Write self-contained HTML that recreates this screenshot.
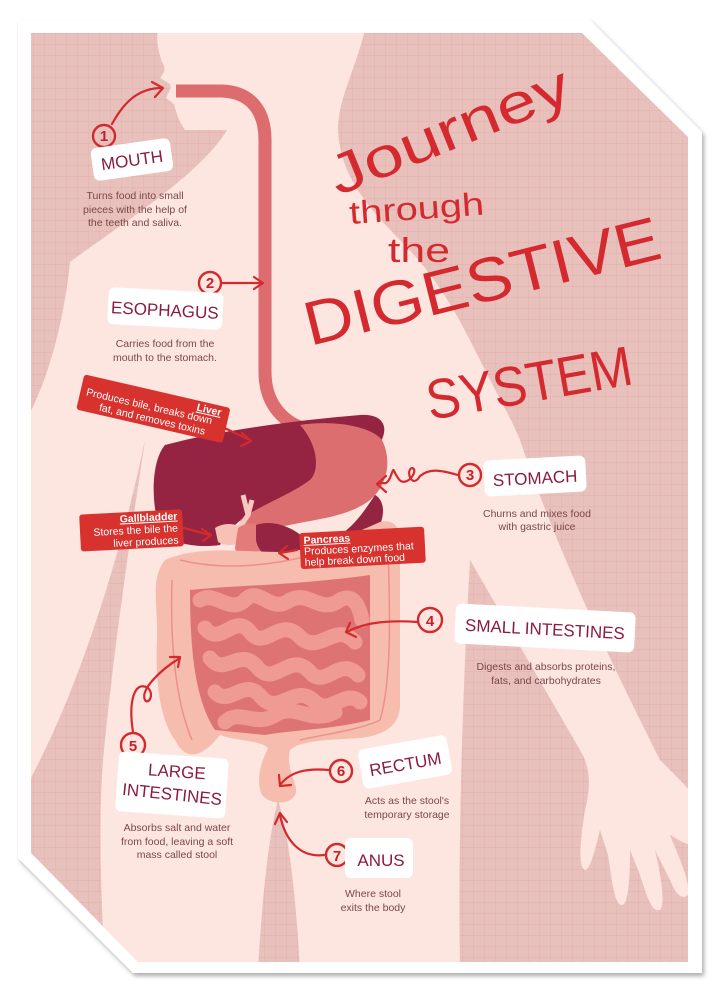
<!DOCTYPE html>
<html><head><meta charset="utf-8"><style>
html,body{margin:0;padding:0;background:#fff;}
body{width:716px;height:993px;position:relative;overflow:hidden;font-family:"Liberation Sans",sans-serif;}
svg{position:absolute;left:0;top:0;}
</style></head><body>
<svg width="716" height="993" viewBox="0 0 716 993" xmlns="http://www.w3.org/2000/svg">
<defs>
<pattern id="grid" width="11" height="11" patternUnits="userSpaceOnUse">
<path d="M11 0H0V11" fill="none" stroke="#e2aaa6" stroke-width="0.7"/>
</pattern>
<clipPath id="inner"><path d="M31 33H582L688 137V962H138L31 853Z"/></clipPath>
<filter id="sh" x="-5%" y="-5%" width="110%" height="110%"><feDropShadow dx="2" dy="3" stdDeviation="2" flood-color="#777" flood-opacity="0.6"/></filter>
</defs>
<path d="M18 20H590L702 132V973H133L18 858Z" fill="#fff" filter="url(#sh)"/>
<g clip-path="url(#inner)">
<rect x="0" y="0" width="716" height="993" fill="#e8c1bc"/>
<rect x="0" y="0" width="716" height="993" fill="url(#grid)"/>
<path fill="#fde5e0" d="M158 30 L365 30 C355 70 338 100 338 130 C340 170 360 200 400 240 C440 280 460 320 480 360 C500 400 512 420 520 440 C560 560 620 680 660 760 C690 790 700 800 700 810 L700 840 C690 850 680 840 670 835 C680 860 690 880 688 895 C682 900 676 895 670 880 L655 850 C662 880 665 905 660 910 C652 912 648 900 640 875 L630 850 C630 880 628 905 622 905 C614 905 612 880 608 855 L600 830 C595 850 590 870 585 870 C578 868 580 840 585 810 C590 790 592 770 580 750 L470 560 C462 700 458 850 460 970 L300 970 C296 900 290 840 278 800 C268 840 262 900 258 970 L105 970 C100 880 98 800 105 740 C115 640 130 540 145 440 C120 560 80 680 40 760 L20 800 L20 430 C40 400 62 340 70 262 C120 225 200 175 227 130 L185 130 C178 120 176 112 174 104 L166 98 C168 92 172 90 170 84 L160 78 C165 72 166 68 162 62 C158 50 156 40 158 30Z"/>
<path d="M176 91 H222 C250 92 265 110 265 140 V372 C265 405 285 425 310 430" fill="none" stroke="#dd6c6f" stroke-width="13"/>
<path fill="#952342" d="M165 445 C220 430 300 420 360 415 C385 413 392 430 375 450 C350 480 320 490 280 500 C250 510 230 525 220 545 C200 548 170 545 160 530 C150 500 152 460 165 445Z"/>
<path fill="#dd6e6f" d="M300 425 C330 420 370 425 382 440 C392 460 388 485 370 500 C345 520 300 520 270 530 C255 535 245 530 240 520 C260 505 290 495 310 480 C320 470 318 445 300 425Z"/>
<path fill="#952342" d="M375 495 C385 500 388 520 370 540 C355 548 345 540 340 535 C355 525 365 510 375 495Z"/>
<path d="M243 495 L248 515 L238 530 M252 500 L248 515" stroke="#f7c8bd" stroke-width="5" fill="none"/>
<path fill="#f7c1b5" d="M215 528 C228 520 245 525 245 535 C242 545 228 548 218 542Z"/>
<path fill="#e27b7a" d="M238 528 C250 520 262 522 262 535 L260 560 C250 566 238 560 235 548Z"/>
<path fill="#952342" d="M256 525 C275 518 300 530 310 545 C312 562 300 570 285 566 C268 560 258 552 256 540Z"/>
<path fill="#f6bcae" d="M165 560 C200 545 240 552 280 552 C320 550 350 535 380 522 C395 518 402 530 400 545 L400 705 C400 725 385 735 360 738 C330 740 300 740 290 750 C285 770 300 785 295 795 C290 805 270 805 262 795 C255 780 262 760 268 748 C260 740 240 742 220 735 C200 760 185 760 175 740 C160 720 155 680 157 640 C158 600 150 580 165 560Z"/>
<path fill="#de7373" d="M190 590 C240 585 300 585 370 575 L370 720 C330 730 290 730 265 735 L215 730 C195 700 190 650 190 590Z"/>
<g fill="none" stroke="#ef9b93" stroke-width="15" stroke-linecap="round">
<path d="M200 600 C215 590 230 615 245 600 C260 585 270 615 290 600 C310 590 320 615 340 600 C355 592 360 610 362 620"/>
<path d="M205 628 C220 648 235 612 250 632 C265 652 280 615 300 637 C320 656 335 620 355 642"/>
<path d="M210 658 C225 678 240 645 258 668 C275 688 290 650 310 672 C325 690 340 655 358 675"/>
<path d="M215 692 C230 708 245 675 262 698 C280 716 295 682 315 702 C330 716 345 688 360 702"/>
<path d="M225 722 C240 708 255 728 275 715 C295 702 310 725 335 712"/>
</g>
<path d="M172 580 C170 640 175 700 192 740" fill="none" stroke="#ec9188" stroke-width="1.5"/>
<path d="M388 545 C390 610 392 680 380 720 C360 730 320 735 300 740" fill="none" stroke="#ec9188" stroke-width="1.5"/>
<path d="M180 560 C240 575 320 560 378 530" fill="none" stroke="#ec9188" stroke-width="1.5"/>
</g>

<g fill="none" stroke="#d32a2e" stroke-width="2.2" stroke-linecap="round" stroke-linejoin="round">
<path d="M112 124 C125 100 140 88 162 88"/><path d="M152 82 L163 88 L155 97"/>
<path d="M222 283 H262"/><path d="M254 277 L263 283 L254 289"/>
<path d="M458 475 C440 470 430 468 420 476 C412 490 405 470 412 468 C420 470 405 490 398 478 C392 470 395 465 390 478 C385 488 382 480 378 484"/><path d="M386 476 L377 484 L386 492"/>
<path d="M417 622 C390 620 365 622 347 632"/><path d="M350 623 L346 632 L356 637"/>
<path d="M133 732 C128 700 135 680 148 688 C155 695 148 705 145 700 C140 690 160 670 180 658"/><path d="M170 657 L180 657 L178 667"/>
<path d="M329 770 C305 768 290 772 280 785"/><path d="M279 775 L280 786 L291 785"/>
<path d="M324 855 C300 858 285 840 280 815"/><path d="M275 824 L280 813 L287 822"/>
<path d="M218 425 L250 440"/><path d="M242 433 L251 441 L241 446"/>
<path d="M180 527 L210 535"/><path d="M202 529 L211 535 L203 541"/>
<path d="M297 550 L280 553"/><path d="M287 546 L279 553 L288 559"/>
</g>
<g fill="none" stroke="#d32a2e" stroke-width="2.4">
<circle cx="104" cy="136" r="11"/><circle cx="210" cy="283" r="11"/><circle cx="470" cy="475" r="11"/>
<circle cx="430" cy="620" r="12"/><circle cx="133" cy="745" r="12"/><circle cx="341" cy="771" r="11"/><circle cx="337" cy="855" r="11"/>
</g>
<g fill="#c81f2a" font-size="15" font-weight="bold" text-anchor="middle" font-family="Liberation Sans,sans-serif">
<text x="104" y="141">1</text><text x="210" y="288">2</text><text x="470" y="480">3</text><text x="430" y="626">4</text><text x="133" y="751">5</text><text x="341" y="776">6</text><text x="337" y="861">7</text>
</g>

<g fill="#fff">
<rect x="92" y="143" width="80" height="33" rx="6" transform="rotate(-8 132 160)"/>
<rect x="108" y="290" width="115" height="37" rx="6" transform="rotate(3 165 308)"/>
<rect x="484" y="458" width="102" height="36" rx="6" transform="rotate(-3 535 476)"/>
<rect x="455" y="608" width="180" height="40" rx="6" transform="rotate(3 545 628)"/>
<rect x="117" y="755" width="110" height="60" rx="6" transform="rotate(4 172 785)"/>
<rect x="360" y="742" width="90" height="40" rx="6" transform="rotate(-10 405 762)"/>
<rect x="345" y="838" width="68" height="40" rx="6"/>
</g>
<g fill="#8b1c3f" font-family="Liberation Sans Narrow,Liberation Sans,sans-serif" font-size="17">
<text x="132" y="166" text-anchor="middle" transform="rotate(-8 132 160)">MOUTH</text>
<text x="165" y="316" text-anchor="middle" transform="rotate(3 165 308)">ESOPHAGUS</text>
<text x="535" y="484" text-anchor="middle" transform="rotate(-3 535 476)">STOMACH</text>
<text x="545" y="635" text-anchor="middle" transform="rotate(3 545 628)">SMALL INTESTINES</text>
<text x="176" y="777" text-anchor="middle" transform="rotate(4 172 785)">LARGE</text>
<text x="172" y="800" text-anchor="middle" transform="rotate(6 172 795)">INTESTINES</text>
<text x="405" y="770" text-anchor="middle" transform="rotate(-10 405 762)">RECTUM</text>
<text x="381" y="866" text-anchor="middle">ANUS</text>
</g>
<g fill="#7b4848" font-size="10.5" text-anchor="middle" font-family="Liberation Sans,sans-serif">
<text x="135" y="199">Turns food into small</text><text x="135" y="213">pieces with the help of</text><text x="135" y="226">the teeth and saliva.</text>
<text x="165" y="347">Carries food from the</text><text x="165" y="361">mouth to the stomach.</text>
<text x="537" y="517">Churns and mixes food</text><text x="537" y="530">with gastric juice</text>
<text x="546" y="670">Digests and absorbs proteins,</text><text x="546" y="684">fats, and carbohydrates</text>
<text x="177" y="831">Absorbs salt and water</text><text x="177" y="845">from food, leaving a soft</text><text x="177" y="858">mass called stool</text>
<text x="407" y="804">Acts as the stool's</text><text x="407" y="818">temporary storage</text>
<text x="373" y="897">Where stool</text><text x="373" y="911">exits the body</text>
</g>

<g transform="rotate(13 150 410)">
<rect x="78" y="390" width="150" height="36" rx="3" fill="#d8322f"/>
<g fill="#fff" font-size="10.5" font-family="Liberation Sans,sans-serif">
<text x="195" y="400" font-weight="bold" text-decoration="underline">Liver</text>
<text x="84" y="410">Produces bile, breaks down</text>
<text x="100" y="422">fat, and removes toxins</text></g>
</g>
<g transform="rotate(-3 130 530)">
<rect x="80" y="512" width="103" height="37" rx="3" fill="#d8322f"/>
<g fill="#fff" font-size="10.5" font-family="Liberation Sans,sans-serif" text-anchor="end">
<text x="178" y="522" font-weight="bold" text-decoration="underline">Gallbladder</text>
<text x="178" y="534">Stores the bile the</text>
<text x="178" y="546">liver produces</text></g>
</g>
<g transform="rotate(-3 360 548)">
<rect x="300" y="530" width="125" height="36" rx="3" fill="#d8322f"/>
<g fill="#fff" font-size="10.5" font-family="Liberation Sans,sans-serif">
<text x="304" y="541" font-weight="bold" text-decoration="underline">Pancreas</text>
<text x="304" y="552">Produces enzymes that</text>
<text x="304" y="563">help break down food</text></g>
</g>

<g fill="#d42a2f" font-family="Liberation Sans,sans-serif">
<text x="338" y="196" font-size="56" textLength="255" lengthAdjust="spacingAndGlyphs" transform="rotate(-22 338 196)">Journey</text>
<text x="350" y="224" font-size="32" textLength="135" lengthAdjust="spacingAndGlyphs" transform="rotate(-4 350 224)">through</text>
<text x="388" y="262" font-size="34" textLength="62" lengthAdjust="spacingAndGlyphs">the</text>
<text x="310" y="346" font-size="62" textLength="365" lengthAdjust="spacingAndGlyphs" transform="rotate(-14 310 346)">DIGESTIVE</text>
<text x="430" y="420" font-size="56" textLength="208" lengthAdjust="spacingAndGlyphs" transform="rotate(-10 430 420)">SYSTEM</text>
</g>
</svg>
</body></html>
